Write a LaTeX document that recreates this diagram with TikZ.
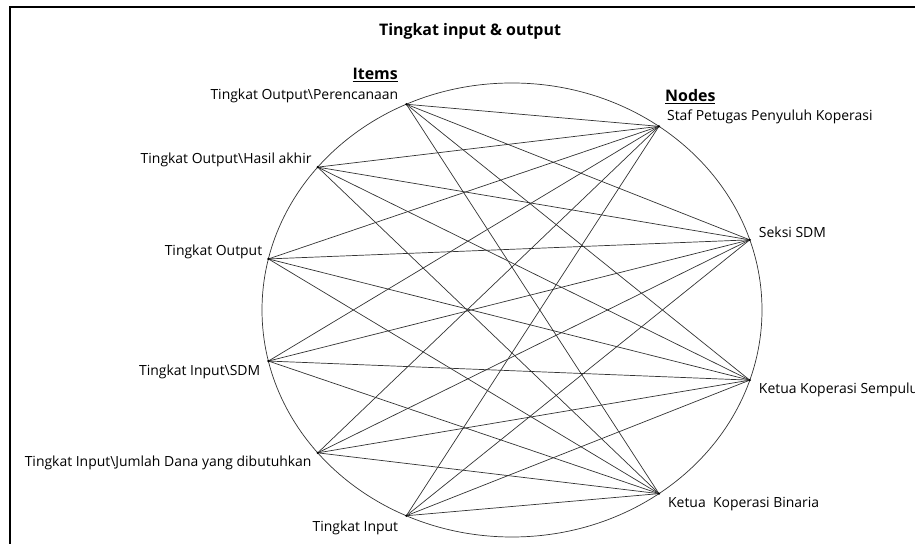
\documentclass[tikz,border=0pt]{standalone}
\usepackage{fontspec}
\setmainfont{Open Sans}
\usetikzlibrary{calc}

\tikzset{
  itemlbl/.style={anchor=east, inner sep=0pt},
  nodelbl/.style={anchor=west, inner sep=0pt},
  headlbl/.style={inner sep=0pt, font=\fontsize{16}{19}\selectfont\bfseries},
  pt/.style={inner sep=0pt, minimum size=0pt},
  edge/.style={line width=0.7bp, black!80}
}

\begin{document}
\begin{tikzpicture}[x=1bp, y=1bp, font=\fontsize{14}{17}\selectfont]
	\clip (0,0) rectangle (915,544);
	% frame and title
	\draw[line width=1.5bp] (10,0) -- (10,537) -- (915,537);
	\node[headlbl] (title) at (470,513) {Tingkat input \& output};
	% ellipse
	\coordinate (c) at (512,234);
	\draw[edge] (c) ellipse [x radius=250, y radius=227];
	% items (left) and nodes (right) on the ellipse
	\node[pt] (p1) at ($(c)+(115:250 and 227)$) {};
	\node[pt] (p2) at ($(c)+(141:250 and 227)$) {};
	\node[pt] (p3) at ($(c)+(167:250 and 227)$) {};
	\node[pt] (p4) at ($(c)+(193:250 and 227)$) {};
	\node[pt] (p5) at ($(c)+(219:250 and 227)$) {};
	\node[pt] (p6) at ($(c)+(245:250 and 227)$) {};
	\node[pt] (n1) at ($(c)+(54:250 and 227)$) {};
	\node[pt] (n2) at ($(c)+(18:250 and 227)$) {};
	\node[pt] (n3) at ($(c)+(-18:250 and 227)$) {};
	\node[pt] (n4) at ($(c)+(-54:250 and 227)$) {};
	\foreach \i in {p1,p2,p3,p4,p5,p6}
		\foreach \j in {n1,n2,n3,n4}
			\draw[edge] (\i) -- (\j);
	\foreach \i in {p1,p2,p3,p4,p5,p6,n1,n2,n3,n4}
		\fill (\i) circle (1.3bp);
	% labels
	\node[headlbl, anchor=east] (items) at (398,469) {\underline{Items}};
	\node[headlbl, anchor=west] (nodes) at (665,447) {\underline{Nodes}};
	\node[itemlbl] (l1) at ($(p1)+(-8,8)$) {Tingkat Output\textbackslash Perencanaan};
	\node[itemlbl] (l2) at ($(p2)+(-6,7)$) {Tingkat Output\textbackslash Hasil akhir};
	\node[itemlbl] (l3) at ($(p3)+(-6,7)$) {Tingkat Output};
	\node[itemlbl] (l4) at ($(p4)+(-8,-11)$) {Tingkat Input\textbackslash SDM};
	\begin{scope}
		\clip (24,0) rectangle (915,544);
		\node[itemlbl] (l5) at ($(p5)+(-6,-10)$) {Tingkat Input\textbackslash Jumlah Dana yang dibutuhkan};
	\end{scope}
	\node[itemlbl] (l6) at ($(p6)+(-8,-12)$) {Tingkat Input};
	\node[nodelbl] (m1) at ($(n1)+(8,10)$) {Staf Petugas Penyuluh Koperasi};
	\node[nodelbl] (m2) at ($(n2)+(9,8)$) {Seksi SDM};
	\node[nodelbl] (m3) at ($(n3)+(9,-10)$) {Ketua Koperasi Sempulu};
	\node[nodelbl] (m4) at ($(n4)+(9,-10)$) {Ketua\ \ Koperasi Binaria};
\end{tikzpicture}
\end{document}
